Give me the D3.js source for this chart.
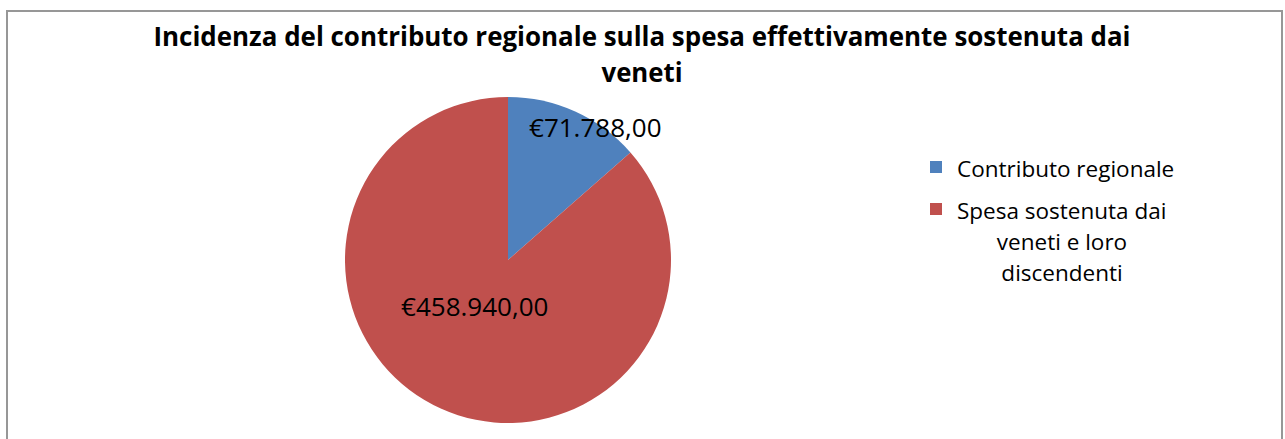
<!DOCTYPE html>
<html>
<head>
<meta charset="utf-8">
<script src="https://d3js.org/d3.v7.min.js"></script>
<style>
    body { margin: 0; background: #fff; }
    svg text { font-family: 'Open Sans', sans-serif; fill: #000; }
</style>
</head>
<body>
<script>
    // data
    var categories = ['Contributo regionale', 'Spesa sostenuta dai veneti e loro discendenti'];
    var values = [71788, 458940];
    var valueLabels = ['€71.788,00', '€458.940,00'];
    var legendLines = [['Contributo regionale'], ['Spesa sostenuta dai', 'veneti e loro', 'discendenti']];
    var colors = ['#4F81BD', '#C0504D'];
    var titleLines = ['Incidenza del contributo regionale sulla spesa effettivamente sostenuta dai', 'veneti'];

    var width = 1285, height = 439;

    var svg = d3.select('body')
        .append('svg')
        .attr('width', width)
        .attr('height', height);

    // chart border (bottom runs off the picture)
    svg.append('rect')
        .attr('x', 7)
        .attr('y', 11)
        .attr('width', 1275)
        .attr('height', 460)
        .attr('fill', 'white')
        .attr('stroke', '#979797')
        .attr('stroke-width', 2);

    // title
    var titleWidths = [977, 81];
    var title = svg.append('text')
        .attr('text-anchor', 'middle')
        .style('font-weight', 'bold')
        .style('font-size', '26px');
    title.selectAll('tspan')
        .data(titleLines)
        .enter()
        .append('tspan')
        .attr('x', 642)
        .attr('y', (d, i) => 46 + i * 36)
        .attr('textLength', (d, i) => titleWidths[i])
        .attr('lengthAdjust', 'spacingAndGlyphs')
        .text(d => d);

    // pie
    var cx = 508, cy = 260, radius = 163;
    var pie = d3.pie().sort(null).value(d => d);
    var arc = d3.arc().innerRadius(0).outerRadius(radius);
    var arcs = pie(values);

    var g = svg.append('g')
        .attr('transform', 'translate(' + cx + ',' + cy + ')');

    g.selectAll('path')
        .data(arcs)
        .enter()
        .append('path')
        .attr('d', arc)
        .attr('fill', (d, i) => colors[i]);

    // labels (best fit, roughly like excel)
    var labelR = [145, 51.6];
    var labelShift = [27.5, -12];
    function labelPos(d, i) {
        return d3.arc().innerRadius(labelR[i]).outerRadius(labelR[i]).centroid(d);
    }
    g.selectAll('text.lbl')
        .data(arcs)
        .enter()
        .append('text')
        .attr('class', 'lbl')
        .attr('text-anchor', 'middle')
        .style('font-size', '26px')
        .attr('x', (d, i) => labelPos(d, i)[0] + labelShift[i])
        .attr('y', (d, i) => labelPos(d, i)[1] + 9)
        .text((d, i) => valueLabels[i]);

    // legend
    var legend = svg.append('g').attr('id', 'legend');
    var legendY = [161, 203];
    var textY = [177, 219];
    legend.selectAll('rect')
        .data(categories)
        .enter()
        .append('rect')
        .attr('x', 930)
        .attr('y', (d, i) => legendY[i])
        .attr('width', 12)
        .attr('height', 12)
        .attr('fill', (d, i) => colors[i]);

    legendLines.forEach(function (lines, i) {
        var t = legend.append('text').style('font-size', '22.5px');
        lines.forEach(function (line, j) {
            t.append('tspan')
                .attr('x', j === 0 ? 957 : 1062)
                .attr('text-anchor', j === 0 ? 'start' : 'middle')
                .attr('y', textY[i] + j * 31)
                .text(line);
        });
    });
</script>
</body>
</html>
